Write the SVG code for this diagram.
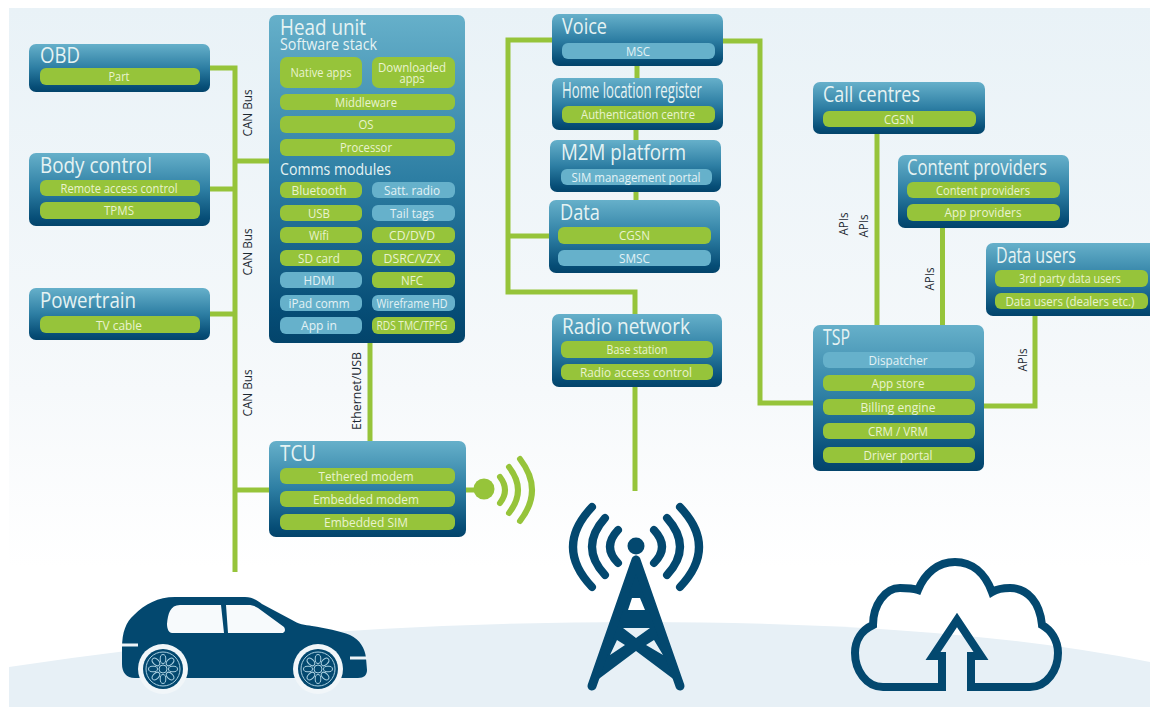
<svg xmlns="http://www.w3.org/2000/svg" width="1150" height="707" viewBox="0 0 1150 707">
<style>
.box{fill:url(#nodeFill)}
.g{fill:#96c43a}
.b{fill:#66b1cb}
text{font-family:"Open Sans","Liberation Sans",sans-serif}
.t{font-size:21px;fill:#e6f3f3}
.s{font-size:15.500px;fill:#e6f3f3}
.p{font-size:12.500px;fill:#e9f3cf;text-anchor:middle}
.pb{font-size:12.500px;fill:#e3f1f5;text-anchor:middle}
.l{font-size:12px;fill:#1d2a33;text-anchor:middle}
.c{fill:none;stroke:#96c43a;stroke-width:5}
.navy{fill:#03486f}
.ns{fill:none;stroke:#03486f}
.rim{fill:none;stroke:#a9cfe0;stroke-width:1}
</style>
<defs>
<linearGradient id="bg" x1="0" y1="0" x2="0" y2="1"><stop offset="0" stop-color="#e9f2f7"/><stop offset="0.55" stop-color="#f6f9fb"/><stop offset="0.8" stop-color="#ffffff"/></linearGradient>
<linearGradient id="nodeFill" x1="0" y1="0" x2="0" y2="1"><stop offset="0" stop-color="#66b0ca"/><stop offset="0.5" stop-color="#2d7ea3"/><stop offset="0.9" stop-color="#064d76"/><stop offset="1" stop-color="#03446b"/></linearGradient>
<g id="wheel">
<circle r="25" fill="#f1f6f9"/><circle r="20" class="navy"/><circle r="17" class="rim"/>
<ellipse class="rim" cy="-10" rx="2.800" ry="4.500"/>
<ellipse class="rim" cy="-10" rx="2.800" ry="4.500" transform="rotate(45)"/>
<ellipse class="rim" cy="-10" rx="2.800" ry="4.500" transform="rotate(90)"/>
<ellipse class="rim" cy="-10" rx="2.800" ry="4.500" transform="rotate(135)"/>
<ellipse class="rim" cy="-10" rx="2.800" ry="4.500" transform="rotate(180)"/>
<ellipse class="rim" cy="-10" rx="2.800" ry="4.500" transform="rotate(225)"/>
<ellipse class="rim" cy="-10" rx="2.800" ry="4.500" transform="rotate(270)"/>
<ellipse class="rim" cy="-10" rx="2.800" ry="4.500" transform="rotate(315)"/>
<circle r="4" class="rim"/>
</g>
</defs>
<rect width="1150" height="707" fill="#ffffff"/>
<rect x="9" y="8" width="1141" height="699" fill="url(#bg)"/>
<path d="M9 667Q300 622 640 622Q950 622 1150 662V707H9Z" fill="#e7f0f6"/>

<g id="connectors">
<path class="c" d="M210 68H235V572M210 189H235M235 161H269M210 314H235M235 490H269"/>
<path class="c" d="M370 343V441"/>
<path class="c" d="M466 490H490"/>
<path class="c" d="M552 40H508V292H635V314M549 236H508"/>
<path class="c" d="M637 66V78M636 130V140M636 192V200"/>
<path class="c" d="M635 387V491"/>
<path class="c" d="M723 41H760V403H813"/>
<path class="c" d="M877 134V325M942.500 228V325M1035 316V406H984"/>
<text class="l" transform="translate(252 113) rotate(-90)" textLength="47" lengthAdjust="spacingAndGlyphs">CAN Bus</text>
<text class="l" transform="translate(252 252) rotate(-90)" textLength="47" lengthAdjust="spacingAndGlyphs">CAN Bus</text>
<text class="l" transform="translate(252 393) rotate(-90)" textLength="47" lengthAdjust="spacingAndGlyphs">CAN Bus</text>
<text class="l" transform="translate(361 391) rotate(-90)" textLength="78" lengthAdjust="spacingAndGlyphs">Ethernet/USB</text>
<text class="l" transform="translate(848 224) rotate(-90)" textLength="23" lengthAdjust="spacingAndGlyphs">APIs</text>
<text class="l" transform="translate(868 226) rotate(-90)" textLength="23" lengthAdjust="spacingAndGlyphs">APIs</text>
<text class="l" transform="translate(934 279) rotate(-90)" textLength="23" lengthAdjust="spacingAndGlyphs">APIs</text>
<text class="l" transform="translate(1027 360) rotate(-90)" textLength="23" lengthAdjust="spacingAndGlyphs">APIs</text>
</g>

<g id="obd"><rect class="box" x="29" y="44" width="181" height="48" rx="7"/><text class="t" x="40" y="63" textLength="40" lengthAdjust="spacingAndGlyphs">OBD</text>
<rect class="g" x="40" y="68" width="160" height="17" rx="6"/><text class="p" x="119" y="81" textLength="21" lengthAdjust="spacingAndGlyphs">Part</text></g>

<g id="body-control"><rect class="box" x="29" y="153" width="181" height="73" rx="7"/><text class="t" x="40" y="173" textLength="112" lengthAdjust="spacingAndGlyphs">Body control</text>
<rect class="g" x="40" y="180" width="160" height="16" rx="6"/><text class="p" x="119" y="193" textLength="117" lengthAdjust="spacingAndGlyphs">Remote access control</text>
<rect class="g" x="40" y="202" width="160" height="17" rx="6"/><text class="p" x="119" y="215" textLength="30" lengthAdjust="spacingAndGlyphs">TPMS</text></g>

<g id="powertrain"><rect class="box" x="29" y="288" width="181" height="52" rx="7"/><text class="t" x="40" y="308" textLength="96" lengthAdjust="spacingAndGlyphs">Powertrain</text>
<rect class="g" x="40" y="316" width="160" height="17" rx="6"/><text class="p" x="119" y="330" textLength="46" lengthAdjust="spacingAndGlyphs">TV cable</text></g>

<g id="head-unit"><rect class="box" x="269" y="15" width="196" height="328" rx="7"/>
<text class="t" x="280" y="35" textLength="86" lengthAdjust="spacingAndGlyphs">Head unit</text><text class="s" x="280" y="50" textLength="97" lengthAdjust="spacingAndGlyphs">Software stack</text>
<rect class="g" x="280" y="57" width="82" height="31" rx="7"/><text class="p" x="321" y="77" textLength="61" lengthAdjust="spacingAndGlyphs">Native apps</text>
<rect class="g" x="372" y="57" width="83" height="31" rx="7"/><text class="p" x="412" y="72" textLength="68" lengthAdjust="spacingAndGlyphs">Downloaded</text><text class="p" x="412" y="83" textLength="25" lengthAdjust="spacingAndGlyphs">apps</text>
<rect class="g" x="280" y="94" width="175" height="16" rx="6"/><text class="p" x="366" y="107" textLength="62" lengthAdjust="spacingAndGlyphs">Middleware</text>
<rect class="g" x="280" y="116" width="175" height="17" rx="6"/><text class="p" x="366" y="129" textLength="15" lengthAdjust="spacingAndGlyphs">OS</text>
<rect class="g" x="280" y="139" width="175" height="17" rx="6"/><text class="p" x="366" y="152" textLength="52" lengthAdjust="spacingAndGlyphs">Processor</text>
<text class="s" x="280" y="175" textLength="111" lengthAdjust="spacingAndGlyphs">Comms modules</text>
<rect class="g" x="280" y="182" width="82" height="16" rx="6"/><text class="p" x="319" y="195" textLength="55" lengthAdjust="spacingAndGlyphs">Bluetooth</text>
<rect class="b" x="372" y="182" width="83" height="16" rx="6"/><text class="pb" x="412" y="195" textLength="56" lengthAdjust="spacingAndGlyphs">Satt. radio</text>
<rect class="g" x="280" y="205" width="82" height="16" rx="6"/><text class="p" x="319" y="218" textLength="22" lengthAdjust="spacingAndGlyphs">USB</text>
<rect class="b" x="372" y="205" width="83" height="16" rx="6"/><text class="pb" x="412" y="218" textLength="44" lengthAdjust="spacingAndGlyphs">Tail tags</text>
<rect class="g" x="280" y="227" width="82" height="16" rx="6"/><text class="p" x="319" y="240" textLength="20" lengthAdjust="spacingAndGlyphs">Wifi</text>
<rect class="g" x="372" y="227" width="83" height="16" rx="6"/><text class="p" x="412" y="240" textLength="46" lengthAdjust="spacingAndGlyphs">CD/DVD</text>
<rect class="g" x="280" y="250" width="82" height="16" rx="6"/><text class="p" x="319" y="263" textLength="42" lengthAdjust="spacingAndGlyphs">SD card</text>
<rect class="g" x="372" y="250" width="83" height="16" rx="6"/><text class="p" x="412" y="263" textLength="57" lengthAdjust="spacingAndGlyphs">DSRC/VZX</text>
<rect class="b" x="280" y="272" width="82" height="16" rx="6"/><text class="pb" x="319" y="285" textLength="31" lengthAdjust="spacingAndGlyphs">HDMI</text>
<rect class="g" x="372" y="272" width="83" height="16" rx="6"/><text class="p" x="412" y="285" textLength="22" lengthAdjust="spacingAndGlyphs">NFC</text>
<rect class="b" x="280" y="295" width="82" height="16" rx="6"/><text class="pb" x="319" y="308" textLength="61" lengthAdjust="spacingAndGlyphs">iPad comm</text>
<rect class="b" x="372" y="295" width="83" height="16" rx="6"/><text class="pb" x="412" y="308" textLength="71" lengthAdjust="spacingAndGlyphs">Wireframe HD</text>
<rect class="b" x="280" y="317" width="82" height="17" rx="6"/><text class="pb" x="319" y="330" textLength="36" lengthAdjust="spacingAndGlyphs">App in</text>
<rect class="g" x="372" y="317" width="83" height="17" rx="6"/><text class="p" x="412" y="330" textLength="71" lengthAdjust="spacingAndGlyphs">RDS TMC/TPFG</text></g>

<g id="tcu"><rect class="box" x="269" y="441" width="197" height="96" rx="7"/><text class="t" x="280" y="461" textLength="36" lengthAdjust="spacingAndGlyphs">TCU</text>
<rect class="g" x="280" y="468" width="175" height="16" rx="6"/><text class="p" x="366" y="481" textLength="95" lengthAdjust="spacingAndGlyphs">Tethered modem</text>
<rect class="g" x="280" y="491" width="175" height="16" rx="6"/><text class="p" x="366" y="504" textLength="106" lengthAdjust="spacingAndGlyphs">Embedded modem</text>
<rect class="g" x="280" y="514" width="175" height="16" rx="6"/><text class="p" x="366" y="527" textLength="84" lengthAdjust="spacingAndGlyphs">Embedded SIM</text></g>

<g id="wireless"><circle cx="484" cy="489" r="10.500" fill="#96c43a"/>
<path d="M500 477Q510 490 500 503M509 467Q527 490 509 513M520 459Q544 490 520 521" fill="none" stroke="#96c43a" stroke-width="6" stroke-linecap="round"/></g>

<g id="voice"><rect class="box" x="552" y="14" width="171" height="52" rx="7"/><text class="t" x="562" y="34" textLength="45" lengthAdjust="spacingAndGlyphs">Voice</text>
<rect class="b" x="562" y="43" width="153" height="16" rx="6"/><text class="pb" x="638" y="56" textLength="24" lengthAdjust="spacingAndGlyphs">MSC</text></g>

<g id="hlr"><rect class="box" x="552" y="78" width="171" height="52" rx="7"/><text class="t" x="562" y="98" textLength="140" lengthAdjust="spacingAndGlyphs">Home location register</text>
<rect class="g" x="562" y="106" width="153" height="17" rx="6"/><text class="p" x="638" y="119" textLength="114" lengthAdjust="spacingAndGlyphs">Authentication centre</text></g>

<g id="m2m"><rect class="box" x="550" y="140" width="171" height="52" rx="7"/><text class="t" x="561" y="160" textLength="125" lengthAdjust="spacingAndGlyphs">M2M platform</text>
<rect class="b" x="561" y="169" width="151" height="16" rx="6"/><text class="pb" x="636" y="182" textLength="129" lengthAdjust="spacingAndGlyphs">SIM management portal</text></g>

<g id="data"><rect class="box" x="549" y="200" width="171" height="73" rx="7"/><text class="t" x="560" y="220" textLength="40" lengthAdjust="spacingAndGlyphs">Data</text>
<rect class="g" x="558" y="227" width="153" height="17" rx="6"/><text class="p" x="634.500" y="240" textLength="31" lengthAdjust="spacingAndGlyphs">CGSN</text>
<rect class="b" x="558" y="250" width="153" height="16" rx="6"/><text class="pb" x="634.500" y="263" textLength="31" lengthAdjust="spacingAndGlyphs">SMSC</text></g>

<g id="radio-network"><rect class="box" x="552" y="314" width="170" height="73" rx="7"/><text class="t" x="562" y="334" textLength="128" lengthAdjust="spacingAndGlyphs">Radio network</text>
<rect class="g" x="561" y="341" width="152" height="17" rx="6"/><text class="p" x="637" y="354" textLength="61" lengthAdjust="spacingAndGlyphs">Base station</text>
<rect class="g" x="561" y="364" width="152" height="16" rx="6"/><text class="p" x="636" y="377" textLength="112" lengthAdjust="spacingAndGlyphs">Radio access control</text></g>

<g id="call-centres"><rect class="box" x="813" y="82" width="172" height="52" rx="7"/><text class="t" x="823" y="102" textLength="97" lengthAdjust="spacingAndGlyphs">Call centres</text>
<rect class="g" x="823" y="111" width="153" height="16" rx="6"/><text class="p" x="899" y="124" textLength="30" lengthAdjust="spacingAndGlyphs">CGSN</text></g>

<g id="content-providers"><rect class="box" x="898" y="155" width="171" height="73" rx="7"/><text class="t" x="907" y="175" textLength="140" lengthAdjust="spacingAndGlyphs">Content providers</text>
<rect class="g" x="907" y="182" width="153" height="16" rx="6"/><text class="p" x="983" y="195" textLength="94" lengthAdjust="spacingAndGlyphs">Content providers</text>
<rect class="g" x="907" y="204" width="153" height="17" rx="6"/><text class="p" x="983" y="217" textLength="77" lengthAdjust="spacingAndGlyphs">App providers</text></g>

<g id="data-users"><rect class="box" x="986" y="243" width="172" height="73" rx="7"/><text class="t" x="996" y="263" textLength="80" lengthAdjust="spacingAndGlyphs">Data users</text>
<rect class="g" x="995" y="270" width="153" height="17" rx="6"/><text class="p" x="1070" y="283" textLength="102" lengthAdjust="spacingAndGlyphs">3rd party data users</text>
<rect class="g" x="995" y="293" width="153" height="16" rx="6"/><text class="p" x="1070" y="306" textLength="129" lengthAdjust="spacingAndGlyphs">Data users (dealers etc.)</text></g>

<g id="tsp"><rect class="box" x="813" y="325" width="171" height="146" rx="7"/><text class="t" x="823" y="345" textLength="27" lengthAdjust="spacingAndGlyphs">TSP</text>
<rect class="b" x="823" y="352" width="152" height="16" rx="6"/><text class="pb" x="898" y="365" textLength="59" lengthAdjust="spacingAndGlyphs">Dispatcher</text>
<rect class="g" x="823" y="375" width="152" height="16" rx="6"/><text class="p" x="898" y="388" textLength="53" lengthAdjust="spacingAndGlyphs">App store</text>
<rect class="g" x="823" y="399" width="152" height="16" rx="6"/><text class="p" x="898" y="412" textLength="75" lengthAdjust="spacingAndGlyphs">Billing engine</text>
<rect class="g" x="823" y="423" width="152" height="16" rx="6"/><text class="p" x="898" y="436" textLength="60" lengthAdjust="spacingAndGlyphs">CRM / VRM</text>
<rect class="g" x="823" y="447" width="152" height="16" rx="6"/><text class="p" x="898" y="460" textLength="69" lengthAdjust="spacingAndGlyphs">Driver portal</text></g>

<g id="car">
<path class="navy" d="M122 648C122 632 126 622 134 615C145 604 158 597 175 597H245C252 597 257 600 262 604L292 620C298 624 305 625 312 626C325 628 340 631 350 635C360 640 365 648 366 658L367 670C367 675 364 678 358 678H135C126 678 122 672 122 664Z"/>
<path d="M167 624C168 614 170 605 180 605H221L224 633H172C169 633 167 629 167 624ZM228 633L226 605H248C252 605 255 606 258 608L284 627C286 630 285 633 281 633Z" fill="#f7fafc"/>
<path d="M122 645H138M350 658H367" stroke="#eef4f8" stroke-width="3"/>
<use href="#wheel" x="163" y="669"/>
<use href="#wheel" x="318" y="669"/>
</g>

<g id="tower">
<circle cx="636" cy="546" r="8.500" class="navy"/>
<path class="ns" stroke-width="8" stroke-linecap="round" d="M618 530Q602 547 618 563M654 530Q670 547 654 563M605 518Q579 547 605 575M667 518Q693 547 667 575M592 507Q554 547 592 587M680 507Q718 547 680 587"/>
<path class="navy" fill-rule="evenodd" d="M636 556L680 684L636 651L592 684ZM632 598H640L645 610H628ZM623 628H650L636 638ZM617 640L625 645L610 655ZM654 640L646 645L663 655Z"/>
<path class="ns" stroke-width="9" stroke-linecap="round" d="M636 560L592 686M636 560L680 686"/>
</g>

<g id="cloud">
<path class="ns" stroke-width="8" d="M971 687H1030C1047 687 1058 670 1058 653C1058 640 1051 630 1042 625C1040 603 1028 588 1010 588C1003 588 997 589 992 592C985 573 972 562 955 562C938 562 925 573 918 590C912 588 905 588 900 588C885 588 873 605 873 625C862 630 855 640 855 653C855 670 866 687 883 687H942V656H933L957 620L981 656H971Z"/>
</g>
</svg>
